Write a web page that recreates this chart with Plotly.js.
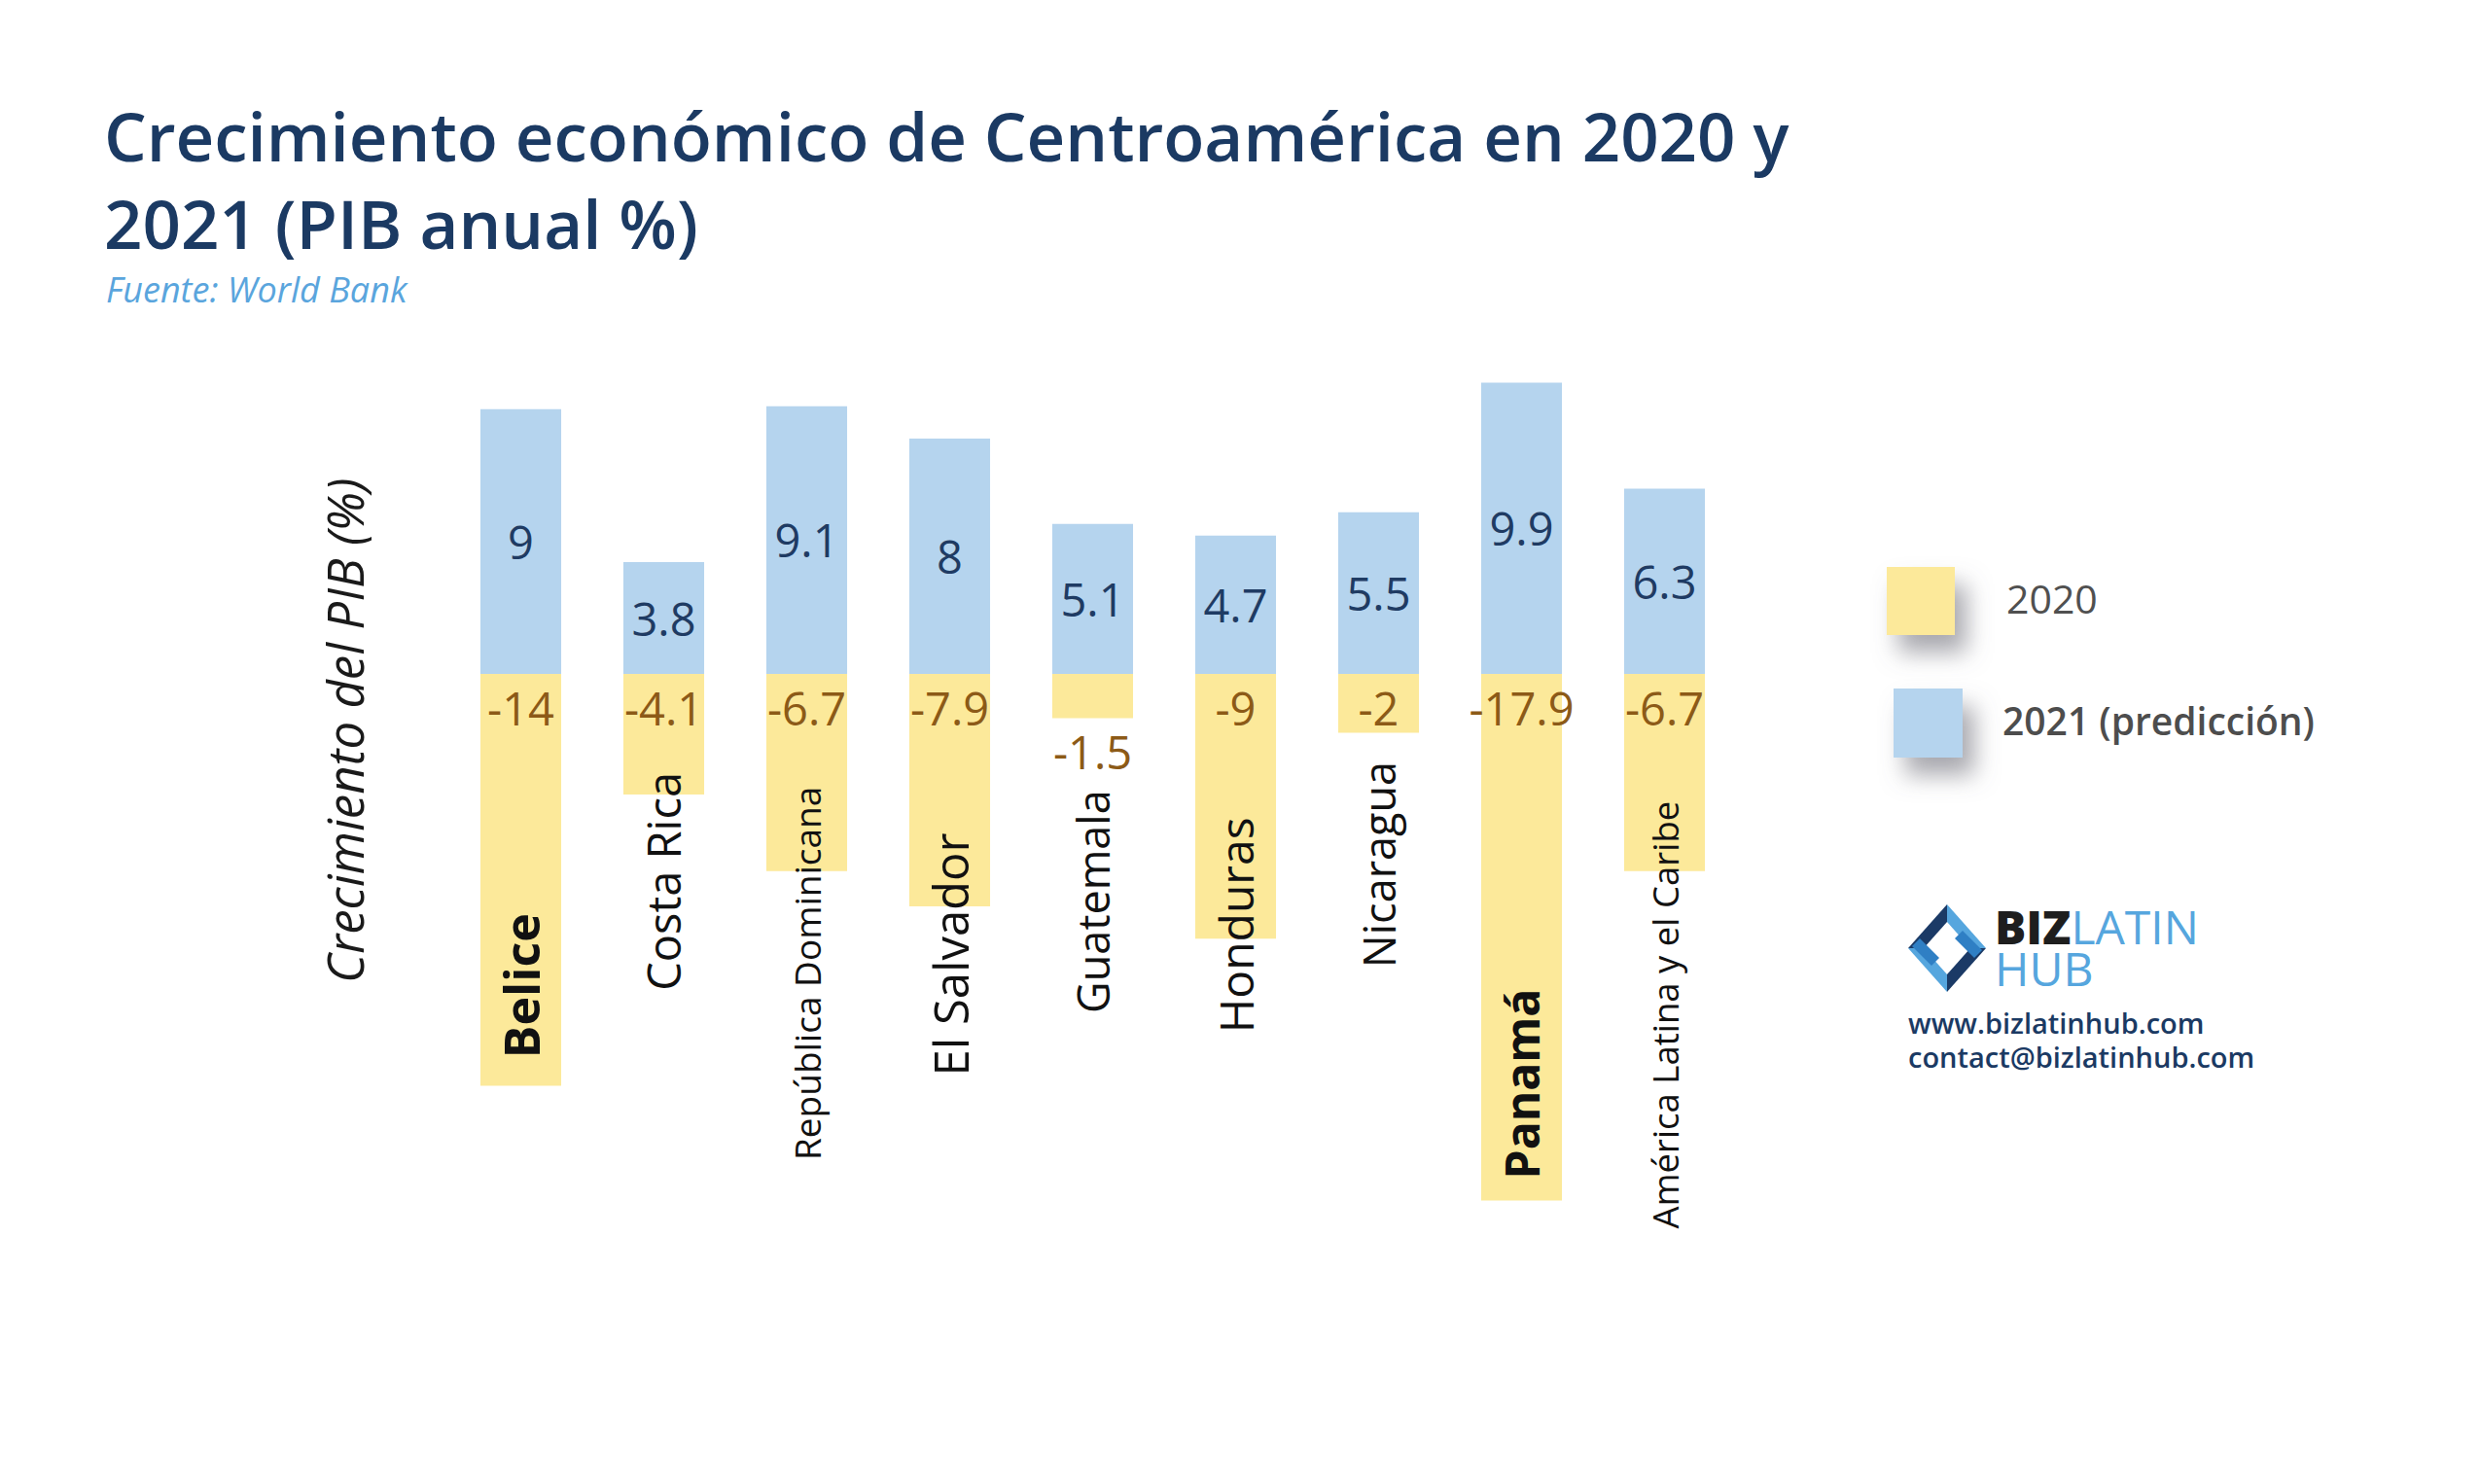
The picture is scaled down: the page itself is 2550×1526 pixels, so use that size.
<!DOCTYPE html>
<html>
<head>
<meta charset="utf-8">
<script src="https://cdn.plot.ly/plotly-3.0.1.min.js"></script>
<style>
  html, body { margin: 0; padding: 0; background: #ffffff; }
  #chart { width: 2550px; height: 1526px; }
</style>
</head>
<body>
<div id="chart"></div>
<script>
// ---- data ----
const categories = ['Belice', 'Costa Rica', 'República Dominicana', 'El Salvador', 'Guatemala',
                    'Honduras', 'Nicaragua', 'Panamá', 'América Latina y el Caribe'];
const gdp2020 = [-14, -4.1, -6.7, -7.9, -1.5, -9, -2, -17.9, -6.7];
const gdp2021 = [9, 3.8, 9.1, 8, 5.1, 4.7, 5.5, 9.9, 6.3];
const seriesNames = ['2020', '2021 (predicción)'];

// ---- label styling (positions in axis units, sizes, weights) ----
const catLabelY = [-10.6, -7.05, -10.2, -9.55, -7.75, -8.55, -6.5, -13.95, -11.6];
const catLabelSize = [50, 47, 37, 49, 45, 48, 45, 48, 36.5];
const catLabelWeight = [700, 400, 400, 400, 400, 400, 400, 700, 400];
const label2020Position = ['inside', 'inside', 'inside', 'inside', 'outside',
                           'inside', 'inside', 'inside', 'inside'];

// ---- layout geometry ----
const W = 2550, H = 1526;
const M = { l: 462, r: 765, t: 330, b: 228 };
const plotW = W - M.l - M.r, plotH = H - M.t - M.b;
const px = x => (x - M.l) / plotW;            // pixel -> paper x
const py = y => (H - M.b - y) / plotH;        // pixel -> paper y
const midFromBaseline = (base, size) => base - 0.388 * size;

const yellow = '#FCE99A', blue = '#B5D4EE';
const navy = '#1B3A63';

const data = [
  {
    type: 'bar', name: seriesNames[0], x: categories, y: gdp2020,
    marker: { color: yellow, line: { width: 0 } },
    text: gdp2020.map(String), textposition: label2020Position, insidetextanchor: 'start',
    constraintext: 'none', textangle: 0, cliponaxis: false,
    textfont: { family: 'Open Sans', size: 47, color: '#8C5A17' },
    hoverinfo: 'skip'
  },
  {
    type: 'bar', name: seriesNames[1], x: categories, y: gdp2021,
    marker: { color: blue, line: { width: 0 } },
    text: gdp2021.map(String), textposition: 'inside', insidetextanchor: 'middle',
    constraintext: 'none', textangle: 0, cliponaxis: false,
    textfont: { family: 'Open Sans', size: 47, color: '#1F3B63' },
    hoverinfo: 'skip'
  }
];

const annotations = [];
// country labels inside/below the bars
categories.forEach((c, i) => {
  annotations.push({
    x: c, xref: 'x', y: catLabelY[i], yref: 'y', text: c, textangle: -90,
    showarrow: false, xanchor: 'center', yanchor: 'middle',
    font: { family: 'Open Sans', size: catLabelSize[i], weight: catLabelWeight[i], color: '#111111' }
  });
});
// y axis title
annotations.push({
  x: px(354), y: py(751), xref: 'paper', yref: 'paper', text: 'Crecimiento del PIB (%)',
  textangle: -90, showarrow: false, xanchor: 'center', yanchor: 'middle',
  font: { family: 'Open Sans', size: 51, style: 'italic', color: '#1a1a1a' }
});
// subtitle
annotations.push({
  x: px(107), y: py(midFromBaseline(311, 36)), xref: 'paper', yref: 'paper',
  text: 'Fuente: World Bank', showarrow: false, xanchor: 'left', yanchor: 'middle',
  font: { family: 'Open Sans', size: 36, style: 'italic', color: '#5AA5DD' }
});
// legend texts
annotations.push({
  x: px(2061), y: py(midFromBaseline(631, 41)), xref: 'paper', yref: 'paper',
  text: seriesNames[0], showarrow: false, xanchor: 'left', yanchor: 'middle',
  font: { family: 'Open Sans', size: 41, color: '#505050' }
});
annotations.push({
  x: px(2057), y: py(midFromBaseline(756, 39)), xref: 'paper', yref: 'paper',
  text: seriesNames[1], showarrow: false, xanchor: 'left', yanchor: 'middle',
  font: { family: 'Open Sans', size: 39, weight: 600, color: '#4d4d4d' }
});
// logo text
annotations.push({
  x: px(2049), y: py(midFromBaseline(971, 48)), xref: 'paper', yref: 'paper',
  text: '<span style="color:#1e1e1e;font-weight:800">BIZ</span>LATIN', showarrow: false,
  xanchor: 'left', yanchor: 'middle',
  font: { family: 'Open Sans', size: 48, color: '#56A6DE' }
});
annotations.push({
  x: px(2049), y: py(midFromBaseline(1014, 48)), xref: 'paper', yref: 'paper',
  text: 'HUB', showarrow: false, xanchor: 'left', yanchor: 'middle',
  font: { family: 'Open Sans', size: 48, color: '#56A6DE' }
});
annotations.push({
  x: px(1960), y: py(midFromBaseline(1063, 29)), xref: 'paper', yref: 'paper',
  text: 'www.bizlatinhub.com', showarrow: false, xanchor: 'left', yanchor: 'middle',
  font: { family: 'Open Sans', size: 29, weight: 600, color: navy }
});
annotations.push({
  x: px(1960), y: py(midFromBaseline(1098, 29)), xref: 'paper', yref: 'paper',
  text: 'contact@bizlatinhub.com', showarrow: false, xanchor: 'left', yanchor: 'middle',
  font: { family: 'Open Sans', size: 29, weight: 600, color: navy }
});

// shapes: legend swatches + logo icon
const rectPx = (x0, y0, x1, y1, color) => ({
  type: 'rect', xref: 'paper', yref: 'paper', x0: px(x0), x1: px(x1), y0: py(y0), y1: py(y1),
  fillcolor: color, line: { width: 0 }, layer: 'above'
});
const polyPx = (pts, cx, cy, color) => ({
  type: 'path', xref: 'paper', yref: 'paper', layer: 'above', line: { width: 0 }, fillcolor: color,
  path: 'M' + pts.map(p => px(cx + p[0]) + ',' + py(cy + p[1])).join(' L') + ' Z'
});
const shapes = [
  rectPx(1940, 583, 2010, 653, yellow),
  rectPx(1947, 708, 2018, 779, blue)
];
const icx = 2002, icy = 975;
const O = { t: [0, -45], r: [40, 0], b: [0, 45], l: [-40, 0] };
const I = { t: [0, -27], r: [24, 0], b: [0, 27], l: [-24, 0] };
shapes.push(polyPx([O.l, O.t, I.t, I.l], icx, icy, '#1B3A66'));
shapes.push(polyPx([O.t, O.r, I.r, I.t], icx, icy, '#56A6DE'));
shapes.push(polyPx([O.r, O.b, I.b, I.r], icx, icy, '#1B3A66'));
shapes.push(polyPx([O.b, O.l, I.l, I.b], icx, icy, '#56A6DE'));
shapes.push(polyPx([[-28, -10], [-8, 10], [-16, 18], [-36, -2]], icx, icy, '#2F7FC4'));
shapes.push(polyPx([[16, -18], [36, 2], [28, 10], [8, -10]], icx, icy, '#2F7FC4'));

const layout = {
  width: W, height: H,
  margin: M,
  paper_bgcolor: '#ffffff', plot_bgcolor: '#ffffff',
  barmode: 'relative', bargap: 0.435,
  showlegend: false,
  title: {
    text: 'Crecimiento económico de Centroamérica en 2020 y<br>2021 (PIB anual %)',
    font: { family: 'Open Sans', size: 69, weight: 600, color: navy },
    x: 107 / W, xref: 'container', xanchor: 'left',
    y: 1 - 166 / H, yref: 'container', yanchor: 'top'
  },
  xaxis: { type: 'category', showticklabels: false, showgrid: false, zeroline: false,
           showline: false, ticks: '', fixedrange: true },
  yaxis: { range: [-20, 12], showticklabels: false, showgrid: false, zeroline: false,
           showline: false, ticks: '', fixedrange: true },
  annotations: annotations,
  shapes: shapes
};

Plotly.newPlot('chart', data, layout, { staticPlot: true, displayModeBar: false }).then(gd => {
  const NS = 'http://www.w3.org/2000/svg';
  const defs = gd._fullLayout._defs.node();
  const f = document.createElementNS(NS, 'filter');
  f.setAttribute('id', 'swShadow');
  f.setAttribute('x', '-80%'); f.setAttribute('y', '-80%');
  f.setAttribute('width', '260%'); f.setAttribute('height', '260%');
  const ds = document.createElementNS(NS, 'feDropShadow');
  ds.setAttribute('dx', '12'); ds.setAttribute('dy', '18');
  ds.setAttribute('stdDeviation', '12');
  ds.setAttribute('flood-color', '#6e6e78'); ds.setAttribute('flood-opacity', '0.6');
  f.appendChild(ds);
  defs.appendChild(f);
  gd.querySelectorAll('.shapelayer path[data-index="0"], .shapelayer path[data-index="1"]')
    .forEach(p => p.setAttribute('filter', 'url(#swShadow)'));
});
</script>
</body>
</html>
